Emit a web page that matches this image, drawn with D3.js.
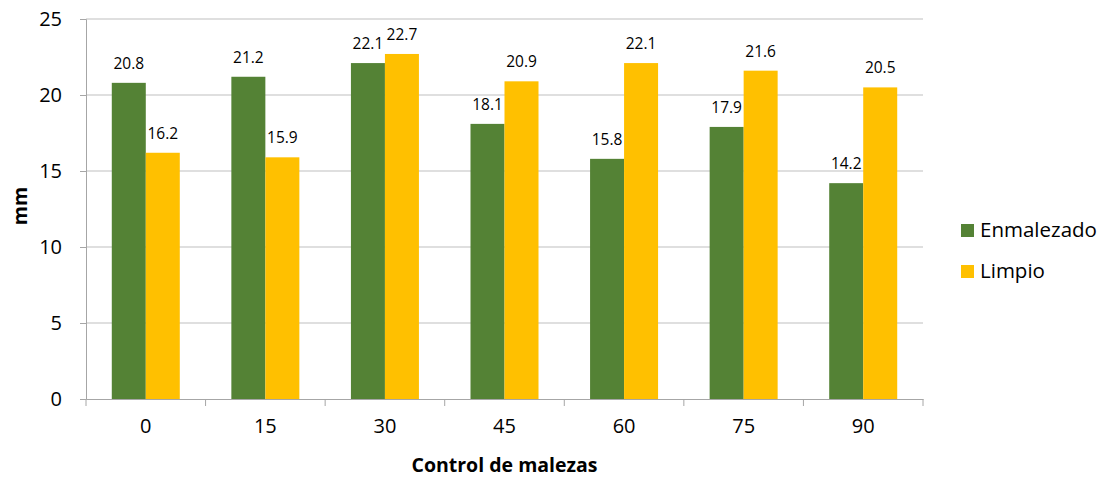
<!DOCTYPE html>
<html><head><meta charset="utf-8">
<script src="https://cdn.jsdelivr.net/npm/d3@7/dist/d3.min.js"></script>
<style>body{margin:0;background:#fff}svg{display:block}text{font-family:"Open Sans",sans-serif;fill:#000}</style>
</head><body><svg id="c" width="1114" height="479"></svg>
<script>
const categories = ["0","15","30","45","60","75","90"];
const seriesNames = ["Enmalezado","Limpio"];
const enmalezado = [20.8,21.2,22.1,18.1,15.8,17.9,14.2];
const limpio = [16.2,15.9,22.7,20.9,22.1,21.6,20.5];
const yTicks = [0,5,10,15,20,25];
const colors = ["#548235","#FFC000"];

const svg = d3.select("#c");
const L=86,R=923,T=19,B=399;
const x = d3.scaleBand().domain(categories).range([L,R]);
const y = d3.scaleLinear().domain([0,25]).range([B,T]);
const bw = 34;

// gridlines
svg.append("g").selectAll("line").data(yTicks.slice(1)).join("line")
  .attr("x1",L).attr("x2",R).attr("y1",d=>y(d)).attr("y2",d=>y(d))
  .attr("stroke","#bfbfbf").attr("stroke-width",1);

const series=[enmalezado,limpio];
series.forEach((vals,si)=>{
  const g=svg.append("g");
  g.selectAll("rect").data(vals).join("rect")
    .attr("x",(d,i)=>x(categories[i])+x.bandwidth()/2-bw+si*bw)
    .attr("width",bw)
    .attr("y",d=>y(d)).attr("height",d=>B-y(d))
    .attr("fill",colors[si]);
  g.selectAll("text").data(vals).join("text")
    .attr("x",(d,i)=>x(categories[i])+x.bandwidth()/2-bw/2+si*bw)
    .attr("y",d=>y(d)-14)
    .attr("text-anchor","middle").attr("font-size",15.5)
    .text(d=>d.toFixed(1));
});

// axes
const ya=svg.append("g").attr("transform",`translate(${L},0)`)
  .call(d3.axisLeft(y).tickValues(yTicks).tickSize(6).tickPadding(18));
ya.select(".domain").attr("stroke","#a6a6a6");
ya.selectAll(".tick line").attr("stroke","#a6a6a6");
ya.selectAll("text").attr("font-size",20).attr("font-family","Open Sans, sans-serif");

const xa=svg.append("g").attr("transform",`translate(0,${B})`)
  .call(d3.axisBottom(x).tickSize(0).tickPadding(20));
xa.select(".domain").attr("stroke","#a6a6a6");
xa.selectAll("text").attr("font-size",20).attr("font-family","Open Sans, sans-serif");
svg.append("g").selectAll("line").data(categories.concat(["end"])).join("line")
  .attr("x1",(d,i)=>L+i*x.bandwidth()).attr("x2",(d,i)=>L+i*x.bandwidth())
  .attr("y1",B).attr("y2",B+7).attr("stroke","#a6a6a6");

svg.append("text").attr("x",(L+R)/2).attr("y",472).attr("text-anchor","middle")
  .attr("font-size",19.5).attr("font-weight","bold").text("Control de malezas");
svg.append("text").attr("transform","translate(27,206) rotate(-90)").attr("text-anchor","middle")
  .attr("font-size",19.5).attr("font-weight","bold").text("mm");

// legend
const lg=svg.append("g");
seriesNames.forEach((n,i)=>{
  lg.append("rect").attr("x",961).attr("y",224+i*41).attr("width",13).attr("height",13).attr("fill",colors[i]);
  lg.append("text").attr("x",980).attr("y",237+i*41).attr("font-size",20.5).text(n);
});
</script></body></html>
